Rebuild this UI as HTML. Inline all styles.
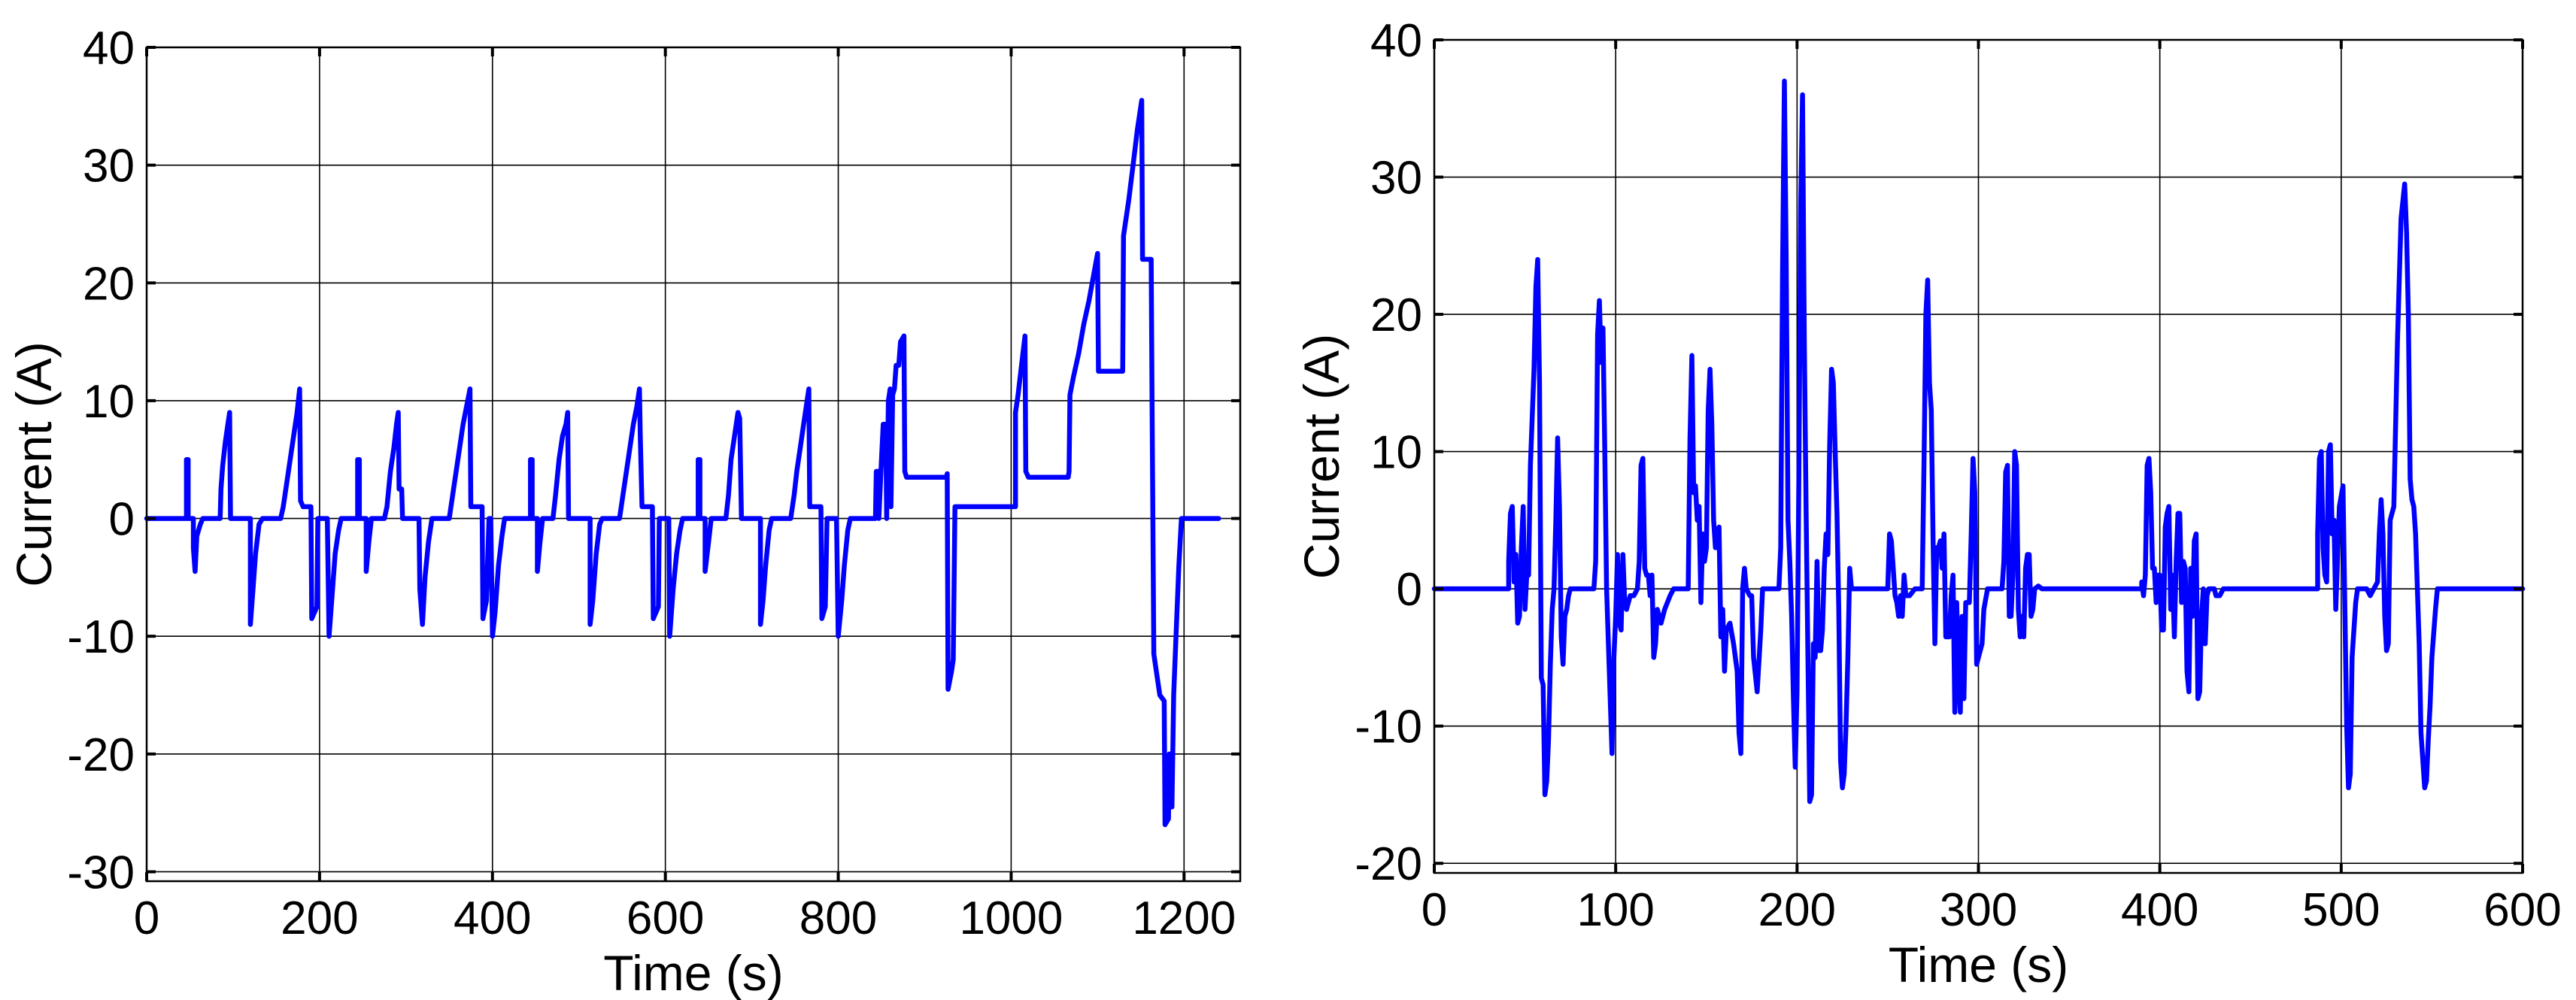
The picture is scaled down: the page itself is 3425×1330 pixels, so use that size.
<!DOCTYPE html>
<html><head><meta charset="utf-8">
<style>
html,body{margin:0;padding:0;background:#fff;}
svg{display:block;}
text{font-family:"Liberation Sans",Arial,sans-serif;fill:#000;}
</style></head>
<body>
<svg id="fig" width="3425" height="1330" viewBox="0 0 3425 1330" xmlns="http://www.w3.org/2000/svg">
<g id="left"></g>
<g id="right"></g>
</svg>
<script>
// ---- Left chart data: [time (s), current (A)] ----
const leftSamples = [[0,0],[46,0],[46,5],[48,5],[48,0],[54,0],[54,-2.5],[56,-4.5],[58,-1.5],[62,-0.5],[65,0],[85,0],[86,2.5],[88,4.5],[91,6.5],[94,8],[96,9],[97,0],[120,0],[120,-9],[123,-6],[126,-3],[130,-0.5],[134,0],[155,0],[158,1],[162,3],[166,5],[170,7],[174,9],[177,11],[178,1.5],[181,1],[190,1],[191,-8.5],[197,-7.5],[198,0],[209,0],[211,-10],[214,-7],[218,-3],[222,-1],[225,0],[244,0],[244,5],[246,5],[246,0],[254,0],[254,-4.5],[257,-2],[260,0],[275,0],[278,1],[282,4],[286,6],[289,8],[291,9],[292,2.5],[295,2.5],[296,0],[315,0],[316,-6],[319,-9],[322,-5],[326,-2],[330,0],[350,0],[354,2],[358,4],[362,6],[366,8],[370,9.5],[374,11],[375,1],[388,1],[389,-8.5],[393,-7],[396,0],[398,0],[400,-10],[403,-8],[407,-4],[411,-1.5],[414,0],[444,0],[444,5],[446,5],[446,0],[452,0],[452,-4.5],[455,-2],[458,0],[470,0],[473,2],[477,5],[481,7],[485,8],[487,9],[488,0],[513,0],[513,-9],[516,-7],[520,-3],[524,-0.5],[527,0],[547,0],[551,2],[555,4],[559,6],[563,8],[567,9.5],[570,11],[571,7],[573,1],[585,1],[586,-8.5],[592,-7.5],[593,0],[604,0],[605,-10],[609,-6],[613,-3],[617,-1],[620,0],[638,0],[638,5],[640,5],[640,0],[646,0],[646,-4.5],[650,-2],[653,0],[670,0],[673,2],[676,5],[680,7],[684,9],[686,8.5],[688,0],[710,0],[710,-9],[713,-7],[716,-4],[720,-1],[723,0],[745,0],[749,2],[752,4],[756,6],[760,8],[764,10],[766,11],[767,1],[780,1],[781,-8.5],[785,-7.5],[787,0],[798,0],[800,-10],[804,-7],[807,-4],[811,-1],[814,0],[843,0],[844,4],[846,4],[847,0],[850,5],[852,8],[855,8],[856,0],[858,10],[860,11],[861,1],[863,10.5],[865,11],[867,13],[870,13],[872,15],[876,15.5],[877,4],[879,3.5],[925,3.5],[926,3.8],[927,-14.5],[931,-13],[933,-12],[935,1],[1005,1],[1005,9],[1008,10.5],[1012,13],[1016,15.5],[1017,4],[1020,3.5],[1066,3.5],[1067,4],[1068,10.5],[1072,12],[1078,14],[1084,16.5],[1090,18.5],[1095,20.5],[1100,22.5],[1101,12.5],[1129,12.5],[1130,24],[1136,27],[1141,30],[1146,33],[1151,35.5],[1152,22],[1162,22],[1163,9.5],[1165,-11.5],[1168,-13],[1172,-15],[1177,-15.5],[1178,-26],[1182,-25.5],[1183,-20],[1186,-24.5],[1188,-15],[1191,-9.5],[1194,-4],[1197,0],[1240,0]];
const leftXTicks = [0,200,400,600,800,1000,1200];
const leftYTicks = [-30,-20,-10,0,10,20,30,40];

// ---- Right chart data: [time (s), current (A)] ----
const rightSamples = [[0,0],[41,0],[41,2],[42,5.5],[43,6],[44,0.5],[45,2.5],[46,-2.5],[47,-2],[48,3],[49,6],[50,-1.5],[51,1],[52,1],[53,9],[54,12.5],[55,16],[56,22],[57,24],[58,15],[59,-6.5],[60,-7],[61,-15],[62,-14],[63,-11],[64,-5.5],[65,-1.5],[66,0],[67,5],[68,11],[69,6],[70,-3.5],[71,-5.5],[72,-2],[73,-1.5],[74,-0.5],[75,0],[88,0],[89,2],[90,18.5],[91,21],[92,16.5],[93,19],[94,10],[95,0],[97,-8],[98,-12],[99,-5],[100,-2],[101,2.5],[102,-2.5],[103,-3],[104,2.5],[105,-1],[106,-1.5],[108,-0.5],[110,-0.5],[112,0],[113,2],[114,9],[115,9.5],[116,1.5],[117,1],[118,1],[119,-0.5],[120,1],[121,-5],[122,-4],[123,-1.5],[125,-2.5],[127,-1.5],[130,-0.5],[132,0],[140,0],[141,11],[142,17],[143,7],[144,7.5],[145,5],[146,6],[147,-1],[148,4],[149,2],[150,3],[151,13],[152,16],[153,12],[154,5],[155,3],[156,4],[157,4.5],[158,-3.5],[159,-1.5],[160,-6],[161,-3],[163,-2.5],[165,-4],[167,-6],[168,-10.5],[169,-12],[170,0],[171,1.5],[172,0],[174,-0.5],[175,-0.5],[176,-5],[178,-7.5],[180,-3],[181,0],[190,0],[191,3],[192,23],[193,37],[194,24],[195,5],[196,2],[197,-2],[198,-8],[199,-13],[200,-7.5],[201,8],[202,28],[203,36],[204,18],[205,5.5],[206,-5],[207,-15.5],[208,-15],[209,-4],[210,-5],[211,2],[212,-4.5],[213,-4.5],[214,-3],[215,1.5],[216,4],[217,2.5],[218,10.5],[219,16],[220,15],[221,10],[222,5.5],[223,-1.5],[224,-12.5],[225,-14.5],[226,-13.5],[227,-10],[228,-5],[229,1.5],[230,0],[250,0],[251,4],[252,3.5],[253,1.5],[254,-0.5],[255,-1],[256,-2],[257,-0.5],[258,-2],[259,1],[260,-0.5],[262,-0.5],[265,0],[269,0],[270,9.5],[271,20],[272,22.5],[273,15],[274,13],[275,3.5],[276,-4],[277,3],[278,3],[279,3.5],[280,1.5],[281,4],[282,-3.5],[284,-3.5],[285,-0.5],[286,1],[287,-9],[288,-1],[289,-6],[290,-9],[291,-2],[292,-8],[293,-1],[295,-1],[296,4],[297,9.5],[298,7],[299,-5.5],[300,-5],[302,-4],[303,-1.5],[305,0],[313,0],[314,2],[315,8.5],[316,9],[317,-2],[318,-2],[319,1],[320,10],[321,9],[322,-1.5],[323,-3.5],[324,-2],[325,-3.5],[326,1.5],[327,2.5],[328,2.5],[329,-2],[330,-1.5],[331,0],[333,0.2],[335,0],[390,0],[390,0.5],[391,-0.5],[392,1],[393,9],[394,9.5],[395,7],[396,1.5],[397,1.5],[398,-1],[399,1],[400,1],[401,-3],[402,-3],[403,4.5],[404,5.5],[405,6],[406,-1.5],[407,1],[408,-3.5],[409,2],[410,5.5],[411,5.5],[412,-1],[413,2],[414,1.5],[415,-6],[416,-7.5],[417,1.5],[418,-2],[419,3.5],[420,4],[421,-8],[422,-7.5],[423,-2],[424,0],[425,-4],[426,-0.5],[427,0],[430,0],[431,-0.5],[433,-0.5],[435,0],[487,0],[487,4],[488,9.5],[489,10],[490,3],[491,1],[492,0.5],[493,10],[494,10.5],[495,4],[496,5],[497,-1.5],[499,6],[501,7.5],[503,-10],[504,-14.5],[505,-13.5],[506,-5],[507,-3],[508,-1],[509,0],[514,0],[516,-0.5],[518,0],[520,0.5],[521,4],[522,6.5],[523,4],[524,-2],[525,-4.5],[526,-4],[527,5],[529,6],[531,18],[533,27],[535,29.5],[536,26],[537,20],[538,8],[539,6.5],[540,6],[541,4],[542,0],[543,-4],[544,-10.5],[546,-14.5],[547,-14],[548,-11],[549,-8.5],[550,-5],[552,-1.5],[553,0],[600,0]];
const rightXTicks = [0,100,200,300,400,500,600];
const rightYTicks = [-20,-10,0,10,20,30,40];

const NS = "http://www.w3.org/2000/svg";
function mk(tag, attrs, parent){
  const e = document.createElementNS(NS, tag);
  for (const k in attrs) e.setAttribute(k, attrs[k]);
  parent.appendChild(e);
  return e;
}

function drawChart(g, cfg, samples, xticks, yticks, prefix){
  const sx = v => cfg.x0 + (v - cfg.xmin) / (cfg.xmax - cfg.xmin) * (cfg.x1 - cfg.x0);
  const sy = v => cfg.y1 - (v - cfg.ymin) / (cfg.ymax - cfg.ymin) * (cfg.y1 - cfg.y0);
  xticks.forEach(t => {
    const l = mk('line', {x1:sx(t), x2:sx(t), y1:cfg.y0, y2:cfg.y1, stroke:'#000', 'stroke-width':1.6}, g);
    
    
  });
  yticks.forEach(t => {
    const l = mk('line', {x1:cfg.x0, x2:cfg.x1, y1:sy(t), y2:sy(t), stroke:'#000', 'stroke-width':1.6}, g);
    
    
  });
  const pts = samples.map(p => sx(p[0]).toFixed(1) + ',' + sy(p[1]).toFixed(1)).join(' ');
  const pl = mk('polyline', {points:pts, fill:'none', stroke:'#0000ff', 'stroke-width':6.5, 'stroke-linejoin':'round', 'stroke-linecap':'round'}, g);
  
  
  const box = mk('rect', {x:cfg.x0, y:cfg.y0, width:cfg.x1-cfg.x0, height:cfg.y1-cfg.y0, fill:'none', stroke:'#000', 'stroke-width':2.5}, g);
  
  
  xticks.forEach(t => {
    const a = mk('line', {x1:sx(t), x2:sx(t), y1:cfg.y1, y2:cfg.y1-12, stroke:'#000', 'stroke-width':4}, g);
    
    
    const b = mk('line', {x1:sx(t), x2:sx(t), y1:cfg.y0, y2:cfg.y0+12, stroke:'#000', 'stroke-width':4}, g);
    
    
    const tx = mk('text', {x:sx(t), y:cfg.y1+70, 'font-size':62, 'text-anchor':'middle'}, g);
    tx.textContent = t;
    
    
  });
  yticks.forEach(t => {
    const a = mk('line', {x1:cfg.x0, x2:cfg.x0+12, y1:sy(t), y2:sy(t), stroke:'#000', 'stroke-width':4}, g);
    
    
    const b = mk('line', {x1:cfg.x1, x2:cfg.x1-12, y1:sy(t), y2:sy(t), stroke:'#000', 'stroke-width':4}, g);
    
    
    const tx = mk('text', {x:cfg.x0-16, y:sy(t)+22, 'font-size':62, 'text-anchor':'end'}, g);
    tx.textContent = t;
    
    
  });
  const xl = mk('text', {x:(cfg.x0+cfg.x1)/2, y:cfg.y1+145, 'font-size':66, 'text-anchor':'middle'}, g);
  xl.textContent = 'Time (s)';
  
  
  const cy = (cfg.y0+cfg.y1)/2;
  const yl = mk('text', {x:cfg.ylx, y:cy, 'font-size':66, 'text-anchor':'middle', transform:'rotate(-90 '+cfg.ylx+' '+cy+')'}, g);
  yl.textContent = 'Current (A)';
  
  
}

drawChart(document.getElementById('left'),
  {x0:195, x1:1649, y0:63, y1:1172, xmin:0, xmax:1265, ymin:-30.8, ymax:40, ylx:68},
  leftSamples, leftXTicks, leftYTicks, 'left');
drawChart(document.getElementById('right'),
  {x0:1907, x1:3354, y0:53, y1:1161, xmin:0, xmax:600, ymin:-20.7, ymax:40, ylx:1780},
  rightSamples, rightXTicks, rightYTicks, 'right');
</script>
</body></html>
